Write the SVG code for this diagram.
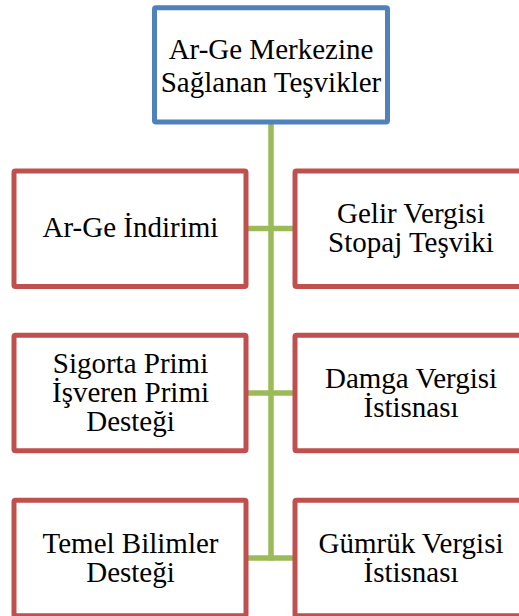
<svg xmlns="http://www.w3.org/2000/svg" width="519" height="616" viewBox="0 0 519 616">
<defs>
<rect id="boxshape" width="232" height="115.5" rx="1.5" fill="#ffffff" stroke="#c0504d" stroke-width="5"/>
</defs>
<rect width="519" height="616" fill="#ffffff"/>
<g id="connectors" stroke="#9bbb59" stroke-width="5.5" fill="none">
<line x1="271" y1="122" x2="271" y2="560.5"/>
<line x1="246" y1="228.5" x2="295" y2="228.5"/>
<line x1="246" y1="393" x2="295" y2="393"/>
<line x1="246" y1="558" x2="295" y2="558"/>
</g>
<g id="labels" font-family="Liberation Serif, Times New Roman, DejaVu Serif, serif" font-size="29" text-anchor="middle" fill="#000000">
<g id="root">
<rect x="154.5" y="7.7" width="233" height="114.3" rx="1.5" fill="#ffffff" stroke="#4f81bd" stroke-width="5"/>
<text x="271" y="58.5">Ar-Ge Merkezine</text>
<text x="271" y="92">Sağlanan Teşvikler</text>
</g>
<g id="n1">
<use href="#boxshape" x="14" y="171"/>
<text x="130.5" y="237">Ar-Ge İndirimi</text>
</g>
<g id="n2">
<use href="#boxshape" x="295" y="171"/>
<text x="411" y="223">Gelir Vergisi</text>
<text x="411" y="252">Stopaj Teşviki</text>
</g>
<g id="n3">
<use href="#boxshape" x="14" y="335.3"/>
<text x="130.5" y="373">Sigorta Primi</text>
<text x="130.5" y="402">İşveren Primi</text>
<text x="130.5" y="430.5">Desteği</text>
</g>
<g id="n4">
<use href="#boxshape" x="295" y="335.3"/>
<text x="411" y="388">Damga Vergisi</text>
<text x="411" y="417">İstisnası</text>
</g>
<g id="n5">
<use href="#boxshape" x="14" y="500.3"/>
<text x="130.5" y="553">Temel Bilimler</text>
<text x="130.5" y="582">Desteği</text>
</g>
<g id="n6">
<use href="#boxshape" x="295" y="500.3"/>
<text x="411" y="553">Gümrük Vergisi</text>
<text x="411" y="582">İstisnası</text>
</g>
</g>
</svg>
